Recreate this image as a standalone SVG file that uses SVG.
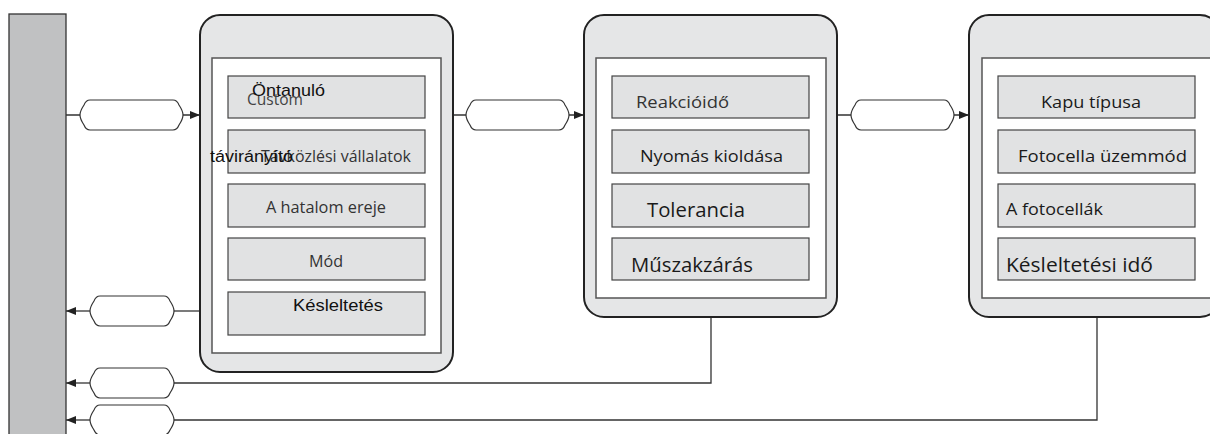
<svg xmlns="http://www.w3.org/2000/svg" width="1210" height="434" viewBox="0 0 1210 434">
<style>
.outer{fill:#e5e6e7;stroke:#222;stroke-width:2}
.inner{fill:#fff;stroke:#555;stroke-width:1.5}
.item{fill:#e1e2e3;stroke:#444;stroke-width:1.2}
.pill{fill:#fff;stroke:#333;stroke-width:1.2}
.ln{fill:none;stroke:#333;stroke-width:1.3}
.c{font-family:"Open Sans","Noto Sans",sans-serif;fill:#1a1a1a}
.a{font-family:"Liberation Sans",Arial,sans-serif;fill:#111}
</style>
<defs>
<marker id="ah" viewBox="0 0 10 10" refX="10" refY="5" markerWidth="10" markerHeight="10" markerUnits="userSpaceOnUse" orient="auto">
<path d="M0,1 L10,5 L0,9 Z" fill="#222"/>
</marker>
<path id="p" d="M10,0 L93,0 Q97,0 99,5 Q103,11 103,15 Q103,19 99,25 Q97,30 93,30 L10,30 Q6,30 4,25 Q0,19 0,15 Q0,11 4,5 Q6,0 10,0 Z"/>
<path id="q" d="M10,0 L74,0 Q78,0 80,5 Q84,11 84,15 Q84,19 80,25 Q78,30 74,30 L10,30 Q6,30 4,25 Q0,19 0,15 Q0,11 4,5 Q6,0 10,0 Z"/>
</defs>

<g id="bar">
<rect x="9" y="14" width="57" height="430" fill="#c0c1c2" stroke="#333" stroke-width="1.3"/>
</g>

<g id="connectors">
<path class="ln" d="M66,115 L80,115 M183,115 L200,115" marker-end="url(#ah)"/>
<use href="#p" class="pill" x="80" y="100"/>
<path class="ln" d="M453,115 L466,115 M569,115 L584,115" marker-end="url(#ah)"/>
<use href="#p" class="pill" x="466" y="100"/>
<path class="ln" d="M837,115 L851,115 M954,115 L969,115" marker-end="url(#ah)"/>
<use href="#p" class="pill" x="851" y="100"/>

<path class="ln" d="M200,311 L174,311"/>
<path class="ln" d="M90,311 L66,311" marker-end="url(#ah)"/>
<use href="#q" class="pill" x="90" y="296"/>

<path class="ln" d="M711,317 L711,383 L174,383"/>
<path class="ln" d="M90,383 L66,383" marker-end="url(#ah)"/>
<use href="#q" class="pill" x="90" y="368"/>

<path class="ln" d="M1097,317 L1097,420 L174,420"/>
<path class="ln" d="M90,420 L66,420" marker-end="url(#ah)"/>
<use href="#q" class="pill" x="90" y="405"/>
</g>

<g id="node1">
<rect class="outer" x="200" y="15" width="253" height="357" rx="20"/>
<rect class="inner" x="212" y="58" width="229" height="295"/>
<rect class="item" x="228" y="76" width="197" height="42"/>
<rect class="item" x="228" y="130" width="197" height="43"/>
<rect class="item" x="228" y="184" width="197" height="43"/>
<rect class="item" x="228" y="238" width="197" height="42"/>
<rect class="item" x="228" y="292" width="197" height="43"/>
<text class="c" x="247" y="105" font-size="16" textLength="56" lengthAdjust="spacingAndGlyphs" style="fill:#444">Custom</text>
<text class="a" x="252" y="96" font-size="17" textLength="73" lengthAdjust="spacingAndGlyphs">Öntanuló</text>
<text class="c" x="261" y="162" font-size="16" textLength="150" lengthAdjust="spacingAndGlyphs" style="fill:#333">Távközlési vállalatok</text>
<text class="a" x="210" y="162" font-size="16" textLength="83" lengthAdjust="spacingAndGlyphs">távirányító</text>
<text class="c" x="266" y="213" font-size="16" textLength="120" lengthAdjust="spacingAndGlyphs" style="fill:#333">A hatalom ereje</text>
<text class="c" x="309" y="267" font-size="16" textLength="34" lengthAdjust="spacingAndGlyphs" style="fill:#333">Mód</text>
<text class="a" x="293" y="311" font-size="17" textLength="90" lengthAdjust="spacingAndGlyphs">Késleltetés</text>
</g>

<g id="node2">
<rect class="outer" x="584" y="15" width="253" height="302" rx="20"/>
<rect class="inner" x="596" y="58" width="230" height="240"/>
<rect class="item" x="612" y="76" width="197" height="42"/>
<rect class="item" x="612" y="130" width="197" height="43"/>
<rect class="item" x="612" y="184" width="197" height="43"/>
<rect class="item" x="612" y="238" width="197" height="42"/>
<text class="c" x="636" y="108" font-size="16" textLength="93" lengthAdjust="spacingAndGlyphs" style="fill:#333">Reakcióidő</text>
<text class="c" x="640" y="162" font-size="17" textLength="143" lengthAdjust="spacingAndGlyphs">Nyomás kioldása</text>
<text class="c" x="647" y="217" font-size="20" textLength="98" lengthAdjust="spacingAndGlyphs">Tolerancia</text>
<text class="c" x="631" y="272" font-size="20" textLength="122" lengthAdjust="spacingAndGlyphs">Műszakzárás</text>
</g>

<g id="node3">
<rect class="outer" x="969" y="15" width="251" height="302" rx="20"/>
<rect class="inner" x="982" y="58" width="240" height="240"/>
<rect class="item" x="998" y="76" width="197" height="42"/>
<rect class="item" x="998" y="130" width="197" height="43"/>
<rect class="item" x="998" y="184" width="197" height="43"/>
<rect class="item" x="998" y="238" width="197" height="42"/>
<text class="c" x="1041" y="108" font-size="17" textLength="100" lengthAdjust="spacingAndGlyphs">Kapu típusa</text>
<text class="c" x="1018" y="162" font-size="17" textLength="169" lengthAdjust="spacingAndGlyphs">Fotocella üzemmód</text>
<text class="c" x="1006" y="215" font-size="17" textLength="97" lengthAdjust="spacingAndGlyphs">A fotocellák</text>
<text class="c" x="1006" y="272" font-size="20" textLength="147" lengthAdjust="spacingAndGlyphs">Késleltetési idő</text>
</g>
</svg>
